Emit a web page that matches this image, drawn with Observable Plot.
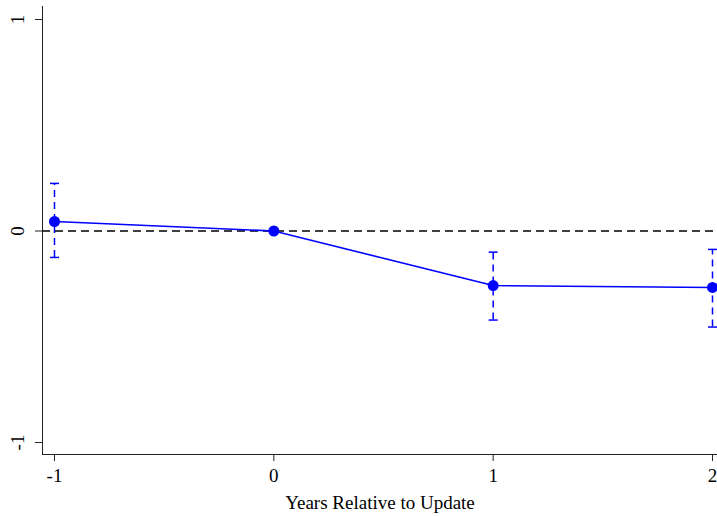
<!DOCTYPE html>
<html>
<head>
<meta charset="utf-8">
<script src="https://cdn.jsdelivr.net/npm/d3@7"></script>
<script src="https://cdn.jsdelivr.net/npm/@observablehq/plot@0.6"></script>
<style>
  html, body { margin: 0; padding: 0; background: #fff; }
  #chart { width: 717px; height: 516px; }
  #chart svg { font-family: "Liberation Serif", "Times New Roman", serif; }
  #chart svg text { font-size: 19px !important; font-family: "Liberation Serif", "Times New Roman", serif !important; fill: #000; }
</style>
</head>
<body>
<div id="chart"></div>
<script>
const years = [-1, 0, 1, 2];
const estimates = [0.045, 0, -0.258, -0.267];
const upper = [0.225, 0, -0.1, -0.087];
const lower = [-0.125, 0, -0.421, -0.454];
const xTicks = [-1, 0, 1, 2];
const yTicks = [-1, 0, 1];

const xDomain = [-1.0547, 2.0228];
const yDomain = [-1.0567, 1.0615];

const points = years.map((x, i) => ({x, y: estimates[i], hi: upper[i], lo: lower[i]}));
const ciPoints = points.filter(d => d.hi !== d.lo);

const capSymbol = {
  draw(context, size) {
    context.moveTo(-4.5, 0);
    context.lineTo(4.5, 0);
  }
};

const chart = Plot.plot({
  width: 717,
  height: 516,
  marginLeft: 42,
  marginRight: 0,
  marginTop: 6,
  marginBottom: 62,
  style: {fontFamily: "'Liberation Serif', 'Times New Roman', serif", fontSize: "19px", background: "#fff"},
  x: {domain: xDomain},
  y: {domain: yDomain},
  marks: [
    Plot.ruleX([xDomain[0]], {stroke: "#222", strokeWidth: 1}),
    Plot.ruleY([yDomain[0]], {stroke: "#222", strokeWidth: 1}),
    Plot.axisX({ticks: xTicks, tickFormat: d => String(d), tickSize: 7, tickPadding: 6.5, stroke: "#222",
      label: "Years Relative to Update", labelAnchor: "center", labelOffset: 54, labelArrow: "none"}),
    Plot.axisY({ticks: yTicks, tickFormat: () => "", tickSize: 7, stroke: "#222", label: null}),
    Plot.axisY({ticks: yTicks, tickFormat: d => String(d), tickSize: 0, tickPadding: 25,
      rotate: -90, textAnchor: "middle", label: null}),
    Plot.ruleY([0], {stroke: "#000", strokeWidth: 1.6, strokeDasharray: "8,5"}),
    Plot.ruleX(ciPoints, {x: "x", y1: "lo", y2: "hi", stroke: "#0000ff", strokeWidth: 1.5, strokeDasharray: "7,5"}),
    Plot.dot(ciPoints, {x: "x", y: "hi", symbol: capSymbol, stroke: "#0000ff", strokeWidth: 1.5, fill: "none"}),
    Plot.dot(ciPoints, {x: "x", y: "lo", symbol: capSymbol, stroke: "#0000ff", strokeWidth: 1.5, fill: "none"}),
    Plot.line(points, {x: "x", y: "y", stroke: "#0000ff", strokeWidth: 1.6}),
    Plot.dot(points, {x: "x", y: "y", r: 5.5, fill: "#0000ff", stroke: "none"})
  ]
});
document.getElementById("chart").appendChild(chart);
</script>
</body>
</html>
